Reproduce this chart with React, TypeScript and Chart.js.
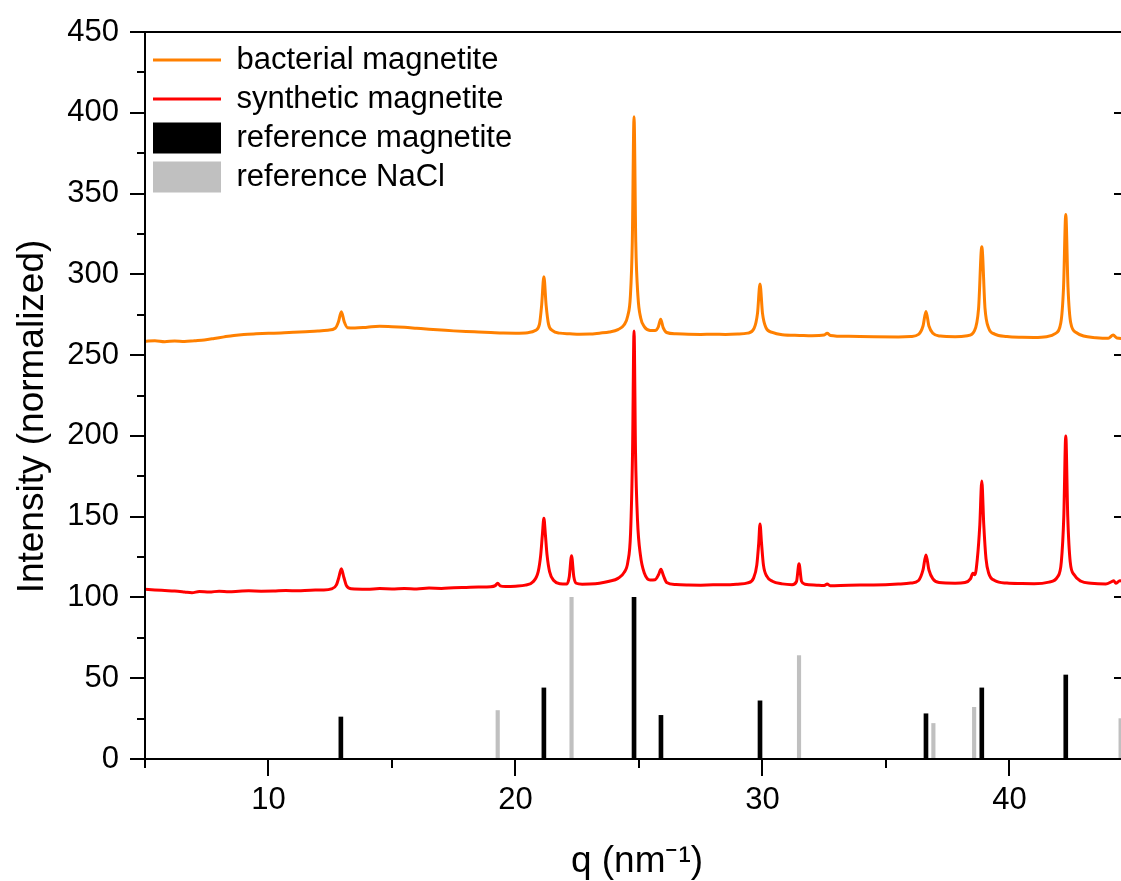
import React, { useEffect, useRef } from 'react';
import { Chart, registerables } from 'chart.js';

Chart.register(...registerables);

// ---- data ----
const BACT_Q = [5.0, 5.4, 5.8, 6.2, 6.6, 7.0, 7.4, 7.8, 8.2, 8.6, 9.0, 9.5, 10.0, 10.5, 11.0, 11.5, 12.0, 12.4, 12.7, 12.83, 12.95, 13.07, 13.2, 13.5, 14.0, 14.5, 15.0, 15.5, 16.0, 16.5, 17.0, 17.5, 18.0, 18.5, 19.0, 19.5, 20.0, 20.5, 20.8, 20.97, 21.06, 21.15, 21.24, 21.34, 21.5, 21.8, 22.2, 22.6, 23.0, 23.4, 23.8, 24.15, 24.4, 24.55, 24.65, 24.73, 24.8, 24.87, 24.96, 25.07, 25.22, 25.45, 25.65, 25.78, 25.88, 25.98, 26.12, 26.5, 27.0, 27.5, 28.0, 28.5, 29.0, 29.4, 29.66, 29.8, 29.9, 30.0, 30.14, 30.4, 30.8, 31.5, 32.0, 32.5, 32.62, 32.75, 33.5, 34.5, 35.5, 36.0, 36.32, 36.5, 36.62, 36.74, 36.9, 37.2, 37.8, 38.3, 38.58, 38.75, 38.88, 39.01, 39.15, 39.4, 39.9, 40.5, 41.0, 41.5, 41.85, 42.08, 42.19, 42.28, 42.37, 42.48, 42.7, 43.0, 43.5, 44.0, 44.2, 44.35, 44.84];
const BACT_I = [258.5, 258.9, 258.3, 258.8, 258.4, 258.9, 259.4, 260.3, 261.3, 262.2, 262.8, 263.2, 263.5, 263.7, 264.1, 264.5, 264.9, 265.4, 266.6, 270.5, 276.8, 270.5, 267.0, 266.8, 267.3, 267.8, 267.6, 267.2, 266.6, 266.0, 265.5, 265.0, 264.6, 264.3, 264.0, 263.7, 263.6, 263.9, 265.2, 269, 281, 298.5, 281, 269, 265.2, 263.6, 263.2, 262.9, 263.0, 263.6, 264.3, 265.8, 268.8, 274.5, 286, 320, 397.5, 320, 286, 273, 267.5, 265.3, 265.2, 267.3, 272.2, 267.0, 264.0, 263.2, 262.9, 262.8, 262.9, 262.8, 263.0, 263.6, 266.5, 276, 294, 276, 267, 264, 262.6, 262.2, 262.0, 262.4, 263.5, 262.2, 261.6, 261.3, 261.2, 261.5, 262.8, 268, 277, 268, 263.5, 261.8, 261.4, 262.0, 265, 279, 317, 279, 267, 263, 261.5, 261.0, 260.9, 261.4, 263.3, 270, 292, 337, 292, 270, 264, 261.8, 260.8, 260.4, 262.4, 260.6, 260.2];

const SYN_Q = [5.0, 5.4, 5.8, 6.2, 6.6, 6.9, 7.2, 7.6, 8.0, 8.4, 8.8, 9.2, 9.7, 10.2, 10.7, 11.2, 11.7, 12.2, 12.55, 12.75, 12.85, 12.95, 13.05, 13.15, 13.35, 14.0, 14.5, 15.0, 15.5, 16.0, 16.5, 17.0, 17.5, 18.0, 18.5, 19.0, 19.18, 19.28, 19.38, 19.6, 20.0, 20.4, 20.7, 20.92, 21.02, 21.09, 21.15, 21.21, 21.28, 21.38, 21.55, 21.8, 22.08, 22.18, 22.27, 22.36, 22.46, 22.7, 23.0, 23.4, 23.8, 24.15, 24.4, 24.55, 24.66, 24.74, 24.8, 24.86, 24.94, 25.06, 25.22, 25.45, 25.65, 25.79, 25.89, 25.99, 26.12, 26.5, 27.0, 27.5, 28.0, 28.5, 29.0, 29.4, 29.64, 29.77, 29.85, 29.9, 29.96, 30.04, 30.18, 30.4, 30.8, 31.2, 31.38, 31.48, 31.58, 31.72, 32.2, 32.5, 32.62, 32.74, 33.5, 34.5, 35.5, 36.0, 36.32, 36.5, 36.62, 36.74, 36.9, 37.15, 37.8, 38.2, 38.42, 38.52, 38.6, 38.7, 38.8, 38.88, 38.96, 39.05, 39.16, 39.4, 39.9, 40.5, 41.0, 41.6, 41.95, 42.1, 42.2, 42.28, 42.36, 42.46, 42.62, 42.9, 43.3, 43.9, 44.14, 44.22, 44.3, 44.47, 44.84];
const SYN_I = [105.0, 104.6, 104.3, 104.0, 103.4, 102.9, 103.7, 103.3, 103.9, 103.5, 103.8, 104.1, 103.9, 104.0, 104.3, 104.1, 104.5, 104.6, 105.3, 107.8, 112.5, 117.8, 112.5, 107.5, 105.4, 105.1, 105.5, 105.3, 105.6, 105.3, 105.8, 105.6, 106.0, 106.2, 106.4, 106.6, 107.3, 108.8, 107.2, 106.8, 107.0, 107.6, 109.5, 116, 126, 139, 149, 139, 126, 116, 110.5, 108.5, 108.3, 113, 125.8, 113, 108.8, 108.2, 108.3, 108.8, 110.0, 111.8, 115.5, 122, 140, 190, 265, 190, 148, 126, 115, 110.8, 111, 114, 117.4, 113.5, 109.3, 108.0, 107.7, 107.6, 107.8, 107.8, 108.2, 109.0, 112, 120, 134, 145.5, 134, 120, 113, 110, 108.4, 107.9, 110, 120.8, 110, 108.2, 107.6, 107.4, 108.3, 107.3, 107.6, 107.7, 108.3, 108.9, 110.5, 117, 126.3, 117, 111.5, 109.2, 108.8, 109.2, 111.5, 115, 114, 124, 145, 172, 145, 124, 115, 110.5, 108.9, 108.6, 108.5, 109.5, 112.8, 122, 150, 200, 150, 122, 114, 110, 108.8, 108.3, 109.8, 110.4, 108.8, 110.3, 109.0];

const MAG_Q = [12.93, 21.15, 24.8, 25.89, 29.9, 36.62, 38.88, 42.28];
const MAG_I = [26, 44, 100, 27, 36, 28, 44, 52];
const NACL_Q = [19.28, 22.27, 31.48, 36.92, 38.57, 44.5];
const NACL_I = [30, 100, 64, 22, 32, 25];

const X_TICKS = [10, 20, 30, 40];
const X_MINOR = [5, 15, 25, 35];
const Y_TICKS = [0, 50, 100, 150, 200, 250, 300, 350, 400, 450];
const Y_MINOR = [25, 75, 125, 175, 225, 275, 325, 375, 425];
const SERIES_NAMES = ['bacterial magnetite', 'synthetic magnetite', 'reference magnetite', 'reference NaCl'];
const Y_TITLE = 'Intensity (normalized)';
const X_TITLE = 'q (nm\u207B\u00B9)';

const FONT = "'Liberation Sans', Arial, sans-serif";
const CANVAS_W = 1140;
const CANVAS_H = 881;

const framePlugin = {
  id: 'frame',
  afterDraw(chart: any) {
    const { ctx, chartArea } = chart;
    const { left, right, top, bottom } = chartArea;
    const x = chart.scales.x;
    const y = chart.scales.y;
    ctx.save();
    ctx.strokeStyle = '#000';
    ctx.lineWidth = 2;
    ctx.lineCap = 'square';
    ctx.beginPath();
    ctx.moveTo(left, top); ctx.lineTo(right, top);
    ctx.moveTo(left, top); ctx.lineTo(left, bottom);
    ctx.moveTo(left, bottom); ctx.lineTo(right, bottom);
    ctx.moveTo(right, top); ctx.lineTo(right, bottom);
    ctx.stroke();
    ctx.lineCap = 'butt';
    ctx.beginPath();
    Y_TICKS.forEach((v) => {
      const p = Math.round(y.getPixelForValue(v));
      ctx.moveTo(left - 15, p); ctx.lineTo(left, p);
      ctx.moveTo(right, p); ctx.lineTo(right - 15, p);
    });
    Y_MINOR.forEach((v) => {
      const p = Math.round(y.getPixelForValue(v));
      ctx.moveTo(left - 8, p); ctx.lineTo(left, p);
      ctx.moveTo(right, p); ctx.lineTo(right - 8, p);
    });
    X_TICKS.forEach((v) => {
      const p = Math.round(x.getPixelForValue(v));
      ctx.moveTo(p, bottom); ctx.lineTo(p, bottom + 17);
    });
    X_MINOR.forEach((v) => {
      const p = Math.round(x.getPixelForValue(v));
      ctx.moveTo(p, bottom); ctx.lineTo(p, bottom + 9);
    });
    ctx.stroke();
    // rotated y-axis title
    ctx.fillStyle = '#000';
    ctx.font = `37px ${FONT}`;
    ctx.textAlign = 'center';
    ctx.textBaseline = 'middle';
    ctx.translate(33, (top + bottom) / 2 + 21);
    ctx.rotate(-Math.PI / 2);
    ctx.fillText(Y_TITLE, 0, 0);
    ctx.restore();
  },
};

export default function App() {
  const canvasRef = useRef<HTMLCanvasElement | null>(null);

  useEffect(() => {
    if (!canvasRef.current) return;
    Chart.defaults.color = '#000';
    const bact = BACT_Q.map((q, i) => ({ x: q, y: BACT_I[i] }));
    const syn = SYN_Q.map((q, i) => ({ x: q, y: SYN_I[i] }));
    const mag = MAG_Q.map((q, i) => ({ x: q, y: MAG_I[i] }));
    const nacl = NACL_Q.map((q, i) => ({ x: q, y: NACL_I[i] }));

    const chart = new Chart(canvasRef.current, {
      type: 'line',
      data: {
        datasets: [
          {
            label: SERIES_NAMES[0],
            data: bact,
            borderColor: '#ff8000',
            backgroundColor: '#ff8000',
            borderWidth: 3,
            pointRadius: 0,
            pointHoverRadius: 0,
            pointStyle: 'line',
            pointBorderWidth: 3,
            cubicInterpolationMode: 'monotone',
            tension: 0.4,
          } as any,
          {
            label: SERIES_NAMES[1],
            data: syn,
            borderColor: '#ff0000',
            backgroundColor: '#ff0000',
            borderWidth: 3,
            pointRadius: 0,
            pointHoverRadius: 0,
            pointStyle: 'line',
            pointBorderWidth: 3,
            cubicInterpolationMode: 'monotone',
            tension: 0.4,
          } as any,
          {
            type: 'bar',
            label: SERIES_NAMES[2],
            data: mag,
            backgroundColor: '#000000',
            borderWidth: 0,
            barThickness: 4,
            grouped: false,
          } as any,
          {
            type: 'bar',
            label: SERIES_NAMES[3],
            data: nacl,
            backgroundColor: '#c0c0c0',
            borderWidth: 0,
            barThickness: 3.5,
            grouped: false,
          } as any,
        ],
      },
      options: {
        animation: false,
        responsive: false,
        devicePixelRatio: 1,
        events: [],
        layout: { padding: { top: 32, right: CANVAS_W - 1129, left: 0, bottom: 0 } },
        scales: {
          x: {
            type: 'linear',
            min: 5,
            max: 44.84,
            offset: false,
            afterBuildTicks: (s: any) => { s.ticks = X_TICKS.map((v) => ({ value: v })); },
            afterFit: (s: any) => { s.height = CANVAS_H - 759; },
            grid: { display: false, drawTicks: false },
            border: { display: false },
            ticks: { font: { family: FONT, size: 31 }, color: '#000', padding: 23, maxRotation: 0 },
            title: {
              display: true,
              text: X_TITLE,
              font: { family: FONT, size: 37 },
              color: '#000',
              padding: { top: 0, bottom: -3 },
            },
          },
          y: {
            type: 'linear',
            min: 0,
            max: 450,
            afterBuildTicks: (s: any) => { s.ticks = Y_TICKS.map((v) => ({ value: v })); },
            afterFit: (s: any) => { s.width = 145; },
            grid: { display: false, drawTicks: true, tickLength: 26 },
            border: { display: false },
            ticks: { font: { family: FONT, size: 31 }, color: '#000', padding: 0 },
            title: { display: false },
          },
        },
        plugins: {
          tooltip: { enabled: false },
          legend: {
            position: 'chartArea' as any,
            align: 'start',
            title: { display: true, text: '', font: { size: 10 }, padding: { top: 24.5, bottom: 0 } },
            labels: {
              usePointStyle: true,
              pointStyleWidth: 68,
              boxHeight: 31,
              padding: 8,
              color: '#000',
              font: { family: FONT, size: 31 },
              generateLabels: (ch: any) => {
                const items = Chart.defaults.plugins.legend.labels.generateLabels(ch);
                return items.map((it: any, i: number) => ({
                  ...it,
                  pointStyle: i < 2 ? 'line' : 'rect',
                  lineWidth: i < 2 ? 3 : 0,
                  fillStyle: i < 2 ? it.strokeStyle : it.fillStyle,
                }));
              },
            },
          },
        },
      },
      plugins: [framePlugin],
    });
    return () => chart.destroy();
  }, []);

  return (
    <div style={{ position: 'fixed', left: 0, top: 0, width: 1121, height: 881, overflow: 'hidden', background: '#fff' }}>
      <canvas ref={canvasRef} width={CANVAS_W} height={CANVAS_H} style={{ width: CANVAS_W, height: CANVAS_H, display: 'block' }} />
    </div>
  );
}
